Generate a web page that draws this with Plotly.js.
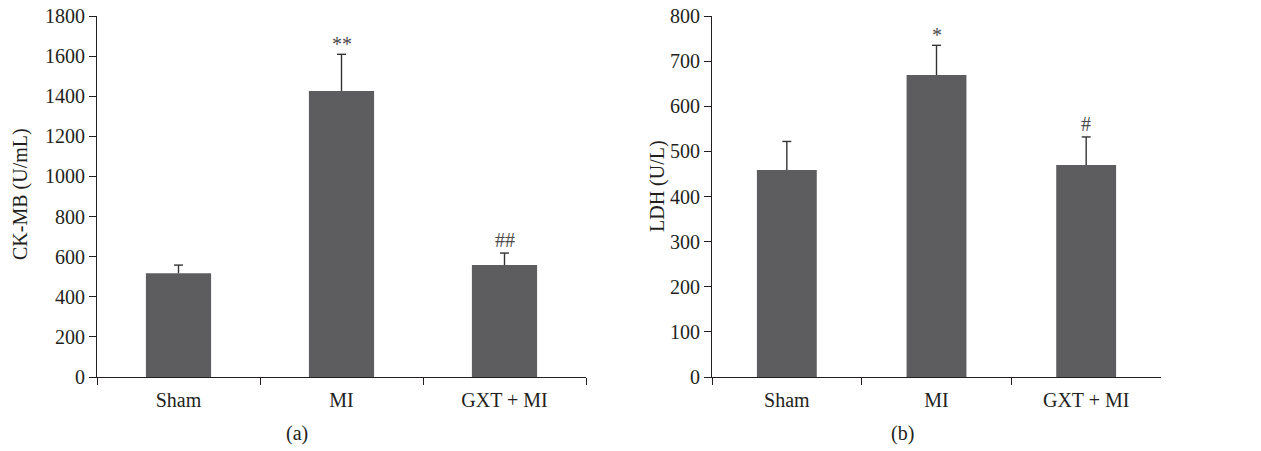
<!DOCTYPE html>
<html>
<head>
<meta charset="utf-8">
<script src="https://cdn.plot.ly/plotly-3.0.1.min.js"></script>
<style>html,body{margin:0;padding:0;background:#fff;}#chart{width:1261px;height:451px;}</style>
</head>
<body>
<div id="chart"></div>
<script>
// ---- data ----
const groups = ["Sham", "MI", "GXT + MI"];
const ckmbMean = [517, 1426, 558];
const ckmbSem = [41, 183, 60];
const ckmbMarks = ["", "**", "##"];
const ldhMean = [459, 669, 470];
const ldhSem = [63, 66, 62];
const ldhMarks = ["", "*", "#"];
const panelLabels = ["(a)", "(b)"];
const yTitles = ["CK-MB (U/mL)", "LDH (U/L)"];

// ---- layout helpers ----
const W = 1261, H = 451;
const px = v => v / W;
const py = v => 1 - v / H;
const FONT = "Liberation Serif, Times New Roman, serif";
const INK = "#231f20";
const BAR = "#5d5d5f";
const ERR = "#333333";

function barTrace(means, xa, ya) {
  return {
    type: "bar", x: groups, y: means, xaxis: xa, yaxis: ya,
    width: 0.4,
    marker: {color: BAR, line: {width: 0}},
    hoverinfo: "skip", showlegend: false
  };
}

const data = [
  barTrace(ckmbMean, "x", "y"),
  barTrace(ldhMean, "x2", "y2")
];

// upward-only error bars, drawn beneath the bars so no lower cap shows
const shapes = [];
function errShapes(means, sems, xref, yref) {
  means.forEach((m, i) => {
    const top = m + sems[i];
    shapes.push({type: "line", layer: "below", xref: xref, yref: yref,
      x0: i, x1: i, y0: m, y1: top, line: {color: ERR, width: 1.4}});
    shapes.push({type: "line", layer: "below", xref: xref, yref: yref,
      xsizemode: "pixel", xanchor: i, x0: -4.5, x1: 4.5, y0: top, y1: top,
      line: {color: ERR, width: 1.4}});
  });
}
errShapes(ckmbMean, ckmbSem, "x", "y");
errShapes(ldhMean, ldhSem, "x2", "y2");

function xAxis(domain, anchor) {
  return {
    domain: domain, anchor: anchor, type: "category",
    showline: true, linecolor: INK, linewidth: 1,
    ticks: "outside", tickson: "boundaries", ticklen: 7, tickcolor: INK, tickwidth: 1,
    ticklabelstandoff: 5,
    showgrid: false, zeroline: false,
    tickfont: {family: FONT, size: 20, color: INK},
    fixedrange: true
  };
}
function yAxis(domain, anchor, range, dtick) {
  return {
    domain: domain, anchor: anchor, range: range, dtick: dtick,
    showline: true, linecolor: INK, linewidth: 1,
    ticks: "outside", ticklen: 7, tickcolor: INK, tickwidth: 1,
    showgrid: false, zeroline: false,
    tickfont: {family: FONT, size: 20, color: INK},
    fixedrange: true
  };
}

const annotations = [];
function marks(means, sems, labels, xref, yref) {
  labels.forEach((t, i) => {
    if (!t) return;
    annotations.push({
      x: groups[i], y: means[i] + sems[i], xref: xref, yref: yref,
      text: t, showarrow: false, yanchor: "bottom",
      yshift: t.indexOf("*") >= 0 ? -3 : 0,
      font: {family: FONT, size: 20, color: "#4a4a4a"}
    });
  });
}
marks(ckmbMean, ckmbSem, ckmbMarks, "x", "y");
marks(ldhMean, ldhSem, ldhMarks, "x2", "y2");

// y titles
[[20, 194, yTitles[0]], [658, 186, yTitles[1]]].forEach(([x, y, t]) => {
  annotations.push({x: px(x), y: py(y), xref: "paper", yref: "paper", text: t,
    textangle: -90, showarrow: false, xanchor: "center", yanchor: "middle",
    font: {family: FONT, size: 20, color: INK}});
});
// panel labels
[[297, 433, panelLabels[0]], [902, 433, panelLabels[1]]].forEach(([x, y, t]) => {
  annotations.push({x: px(x), y: py(y), xref: "paper", yref: "paper", text: t,
    showarrow: false, xanchor: "center", yanchor: "middle",
    font: {family: FONT, size: 20, color: INK}});
});

const layout = {
  width: W, height: H,
  margin: {l: 0, r: 0, t: 0, b: 0},
  paper_bgcolor: "#fff", plot_bgcolor: "#fff",
  xaxis: xAxis([px(97), px(586)], "y"),
  yaxis: yAxis([py(377), py(16)], "x", [0, 1800], 200),
  xaxis2: xAxis([px(712), px(1161)], "y2"),
  yaxis2: yAxis([py(377), py(16)], "x2", [0, 800], 100),
  shapes: shapes,
  annotations: annotations,
  showlegend: false
};

Plotly.newPlot("chart", data, layout, {displayModeBar: false, staticPlot: true});
</script>
</body>
</html>
